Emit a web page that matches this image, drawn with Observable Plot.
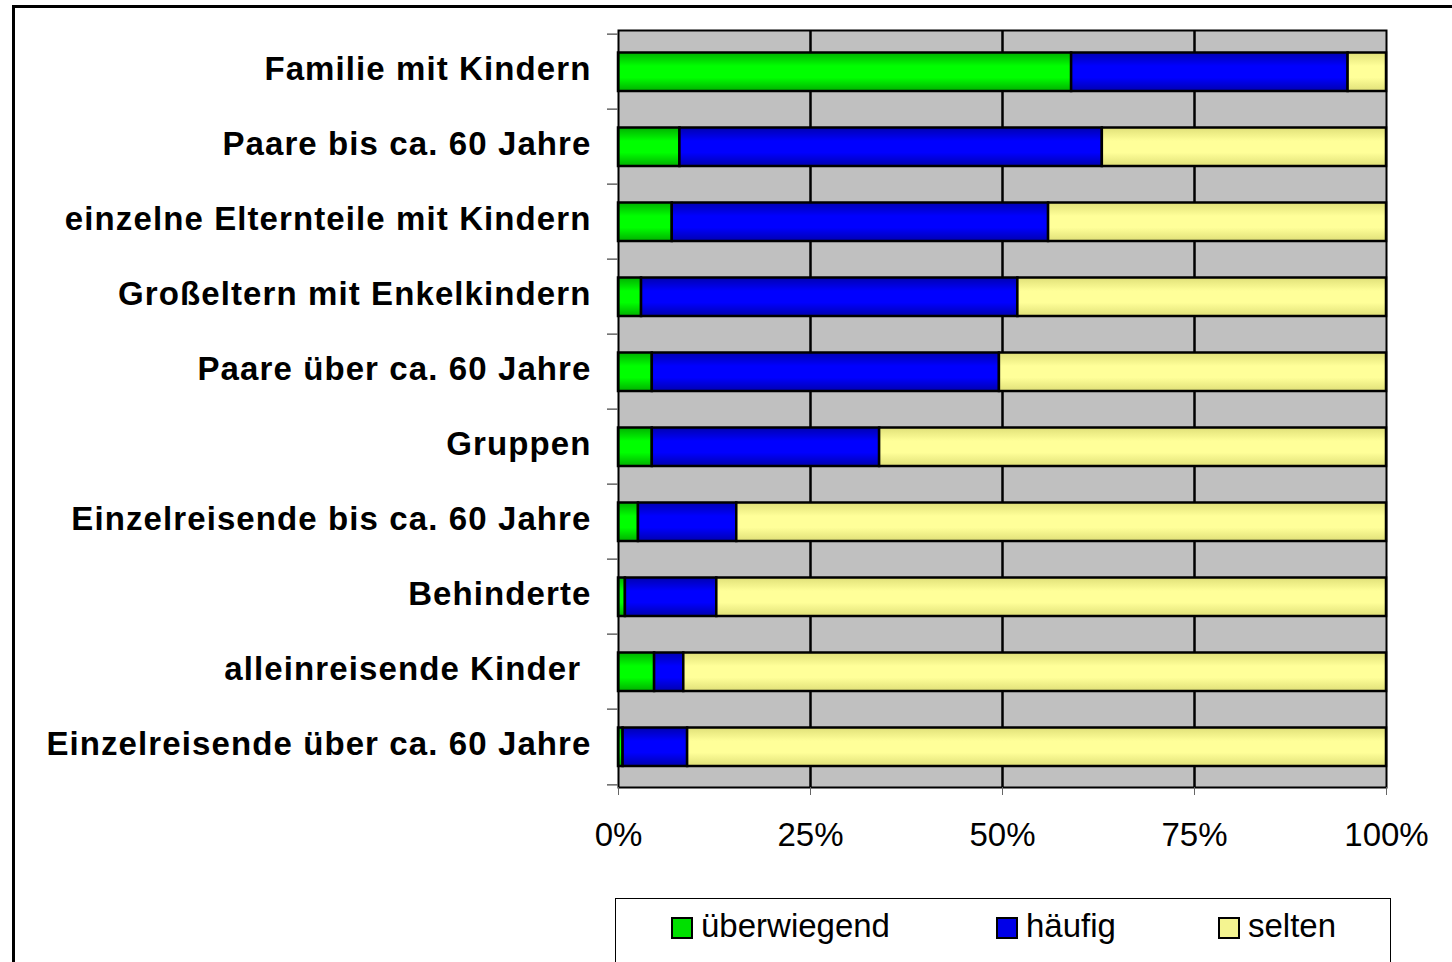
<!DOCTYPE html>
<html>
<head>
<meta charset="utf-8">
<script src="https://cdn.jsdelivr.net/npm/d3@7"></script>
<script src="https://cdn.jsdelivr.net/npm/@observablehq/plot@0.6"></script>
<style>
  html, body { margin: 0; padding: 0; background: #fff; overflow: hidden; width: 1452px; height: 962px; }
  #frame { position: absolute; left: 12px; top: 5px; width: 1460px; height: 990px; border: 3px solid #000; box-sizing: border-box; pointer-events: none; }
  #chart { position: absolute; left: 0; top: 0; }
  #legend { position: absolute; left: 615px; top: 898px; width: 776px; height: 70px; border: 1.5px solid #000; box-sizing: border-box; font-family: "Liberation Sans", Arial, sans-serif; font-size: 33px; }
  .item { position: absolute; top: 8px; display: flex; align-items: center; height: 38px; }
  .sw { width: 18px; height: 18px; border: 2px solid #000; margin-right: 8px; margin-top: 4px; }
</style>
</head>
<body>
<div id="chart"></div>
<div id="legend"></div>
<div id="frame"></div>
<script>
const categories = [
  "Familie mit Kindern",
  "Paare bis ca. 60 Jahre",
  "einzelne Elternteile mit Kindern",
  "Großeltern mit Enkelkindern",
  "Paare über ca. 60 Jahre",
  "Gruppen",
  "Einzelreisende bis ca. 60 Jahre",
  "Behinderte",
  "alleinreisende Kinder ",
  "Einzelreisende über ca. 60 Jahre"
];
const series = ["überwiegend", "häufig", "selten"];
const ueberwiegend = [59, 8, 7, 3, 4.4, 4.4, 2.6, 0.9, 4.7, 0.6];
const haeufig      = [36, 55, 49, 49, 45.2, 29.6, 12.8, 11.9, 3.8, 8.4];
const selten       = [5, 37, 44, 48, 50.4, 66, 84.6, 87.2, 91.5, 91];
const xTicks = [0, 25, 50, 75, 100];

const seriesValues = [ueberwiegend, haeufig, selten];
const gradIds = ["gGreen", "gBlue", "gYellow"];
const gradStops = [
  ["#00b000", "#00ff00"],
  ["#0000b0", "#0000ff"],
  ["#e0e078", "#ffff99"]
];
const swatchFill = ["#00e000", "#0000e8", "#f4f490"];

const data = [];
series.forEach((s, si) => {
  categories.forEach((c, ci) => data.push({category: c, series: s, value: seriesValues[si][ci]}));
});

const W = 1452, H = 880;
const mTop = 30, mBottom = 93;
const step = (H - mTop - mBottom) / categories.length;

const svg = Plot.plot({
  width: W,
  height: H,
  marginLeft: 618,
  marginRight: 66,
  marginTop: mTop,
  marginBottom: mBottom,
  style: {fontFamily: "'Liberation Sans', Arial, sans-serif", background: "transparent", overflow: "visible"},
  x: {domain: [0, 100]},
  y: {domain: categories, padding: 0},
  color: {domain: series, range: gradIds.map(id => `url(#${id})`)},
  marks: [
    Plot.frame({fill: "#c0c0c0", stroke: null}),
    Plot.gridX(xTicks.slice(1, -1), {stroke: "#000", strokeOpacity: 1, strokeWidth: 2.5}),
    Plot.barX(data, Plot.stackX({
      y: "category", x: "value", fill: "series", order: series,
      stroke: "#000", strokeWidth: 2.5, insetTop: 18.5, insetBottom: 18
    })),
    Plot.frame({stroke: "#000", strokeWidth: 2}),
    Plot.axisX(xTicks, {tickSize: 8, tickPadding: 27, tickFormat: d => d + "%", fontSize: 33, stroke: "#666", fill: "#000", label: null}),
    Plot.axisY({tickSize: 0, tickPadding: 27, fontSize: 33, fontWeight: "bold", fill: "#000", label: null, dy: -2.5}),
    Plot.axisY({tickSize: 11, text: null, stroke: "#666", strokeWidth: 1.5, dy: -step / 2, label: null}),
    Plot.axisY([categories[categories.length - 1]], {tickSize: 11, text: null, stroke: "#666", strokeWidth: 1.5, dy: step / 2, label: null})
  ]
});

d3.select(svg).selectAll('[aria-label="y-axis tick label"] text')
  .style("letter-spacing", "1.1px")
  .style("white-space", "pre")
  .attr("xml:space", "preserve");

const defs = d3.select(svg).insert("defs", ":first-child");
gradIds.forEach((id, i) => {
  const g = defs.append("linearGradient").attr("id", id)
    .attr("x1", 0).attr("y1", 0).attr("x2", 0).attr("y2", 1);
  [[0, 0], [0.35, 1], [0.65, 1], [1, 0]].forEach(([o, k]) =>
    g.append("stop").attr("offset", o).attr("stop-color", gradStops[i][k]));
});

document.getElementById("chart").appendChild(svg);

const legend = document.getElementById("legend");
const itemX = [55, 380, 602];
series.forEach((s, i) => {
  const it = document.createElement("div");
  it.className = "item";
  it.style.left = itemX[i] + "px";
  const sw = document.createElement("div");
  sw.className = "sw";
  sw.style.background = swatchFill[i];
  const t = document.createElement("span");
  t.textContent = s;
  it.appendChild(sw);
  it.appendChild(t);
  legend.appendChild(it);
});
</script>
</body>
</html>
